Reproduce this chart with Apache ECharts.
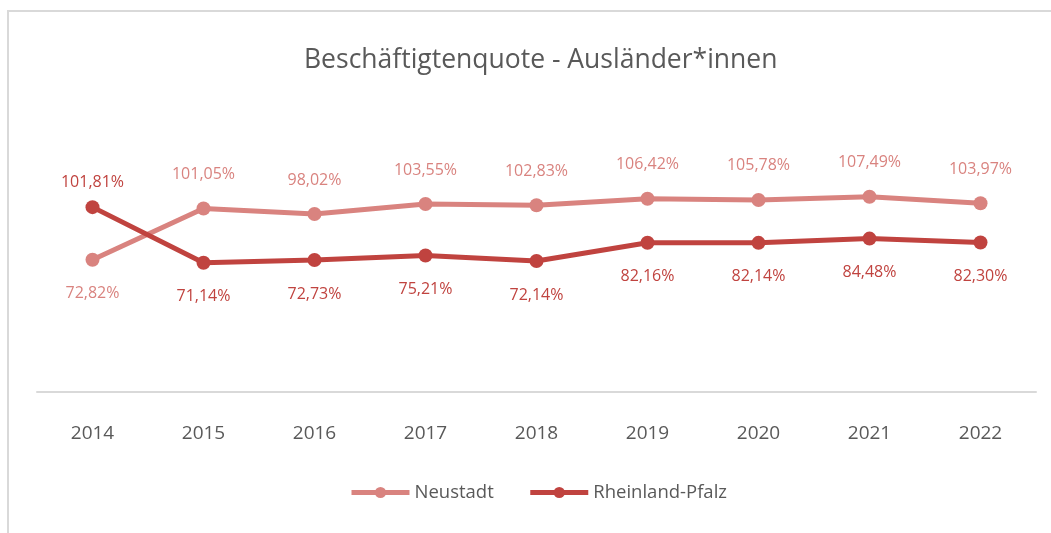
<!DOCTYPE html>
<html>
<head>
<meta charset="utf-8">
<style>
  html, body { margin: 0; padding: 0; background: #fff; }
  #frame { position: absolute; left: 7px; top: 10px; width: 1100px; height: 600px;
           border-top: 2px solid #d9d9d9; border-left: 2px solid #d9d9d9; }
  #chart { position: absolute; left: 0; top: 0; width: 1051px; height: 533px; }
</style>
<script src="https://cdn.jsdelivr.net/npm/echarts@6/dist/echarts.min.js"></script>
</head>
<body>
<div id="frame"></div>
<div id="chart"></div>
<script>
var years = ["2014", "2015", "2016", "2017", "2018", "2019", "2020", "2021", "2022"];
var neustadt = [72.82, 101.05, 98.02, 103.55, 102.83, 106.42, 105.78, 107.49, 103.97];
var rlp = [101.81, 71.14, 72.73, 75.21, 72.14, 82.16, 82.14, 84.48, 82.30];

var colNeu = "#d9837f";
var colRlp = "#c0433f";
var fontName = "'Open Sans', 'Noto Sans', sans-serif";

function fmt(v) {
  return v.toFixed(2).replace(".", ",") + "%";
}

// label above or below, depending on which line is higher
function withLabels(vals, other, nearTop) {
  return vals.map(function (v, i) {
    var up = v >= other[i];
    return {
      value: v,
      label: { position: up ? "top" : "bottom", distance: up && nearTop ? 10 : 19 }
    };
  });
}

var chart = echarts.init(document.getElementById("chart"));
var option = {
  backgroundColor: "transparent",
  title: {
    text: "Beschäftigtenquote - Ausländer*innen",
    left: 299,
    top: 42,
    textStyle: { fontFamily: fontName, fontSize: 26.5, fontWeight: "normal", color: "#595959" }
  },
  legend: {
    bottom: 26,
    left: 344,
    itemWidth: 58,
    itemHeight: 14,
    itemGap: 34,
    lineStyle: { width: 5 },
    textStyle: { fontFamily: fontName, fontSize: 18.5, color: "#595959" },
    data: ["Neustadt", "Rheinland-Pfalz"]
  },
  grid: { left: 37, right: 15, top: 116, bottom: 141 },
  xAxis: {
    type: "category",
    data: years,
    boundaryGap: true,
    axisLine: { lineStyle: { color: "#d9d9d9", width: 2 } },
    axisTick: { show: false },
    axisLabel: { fontFamily: fontName, fontSize: 19, color: "#595959", margin: 32 }
  },
  yAxis: {
    type: "value",
    min: 0,
    max: 152,
    show: false,
    splitLine: { show: false }
  },
  series: [
    {
      name: "Neustadt",
      type: "line",
      data: withLabels(neustadt, rlp, false),
      color: colNeu,
      lineStyle: { width: 5, color: colNeu },
      symbol: "circle",
      symbolSize: 14,
      itemStyle: { color: colNeu },
      label: {
        show: true,
        fontFamily: fontName,
        fontSize: 16,
        color: colNeu,
        formatter: function (p) { return fmt(p.value); }
      }
    },
    {
      name: "Rheinland-Pfalz",
      type: "line",
      data: withLabels(rlp, neustadt, true),
      color: colRlp,
      lineStyle: { width: 5, color: colRlp },
      symbol: "circle",
      symbolSize: 14,
      itemStyle: { color: colRlp },
      label: {
        show: true,
        fontFamily: fontName,
        fontSize: 16,
        color: colRlp,
        formatter: function (p) { return fmt(p.value); }
      }
    }
  ]
};
chart.setOption(option);
</script>
</body>
</html>
